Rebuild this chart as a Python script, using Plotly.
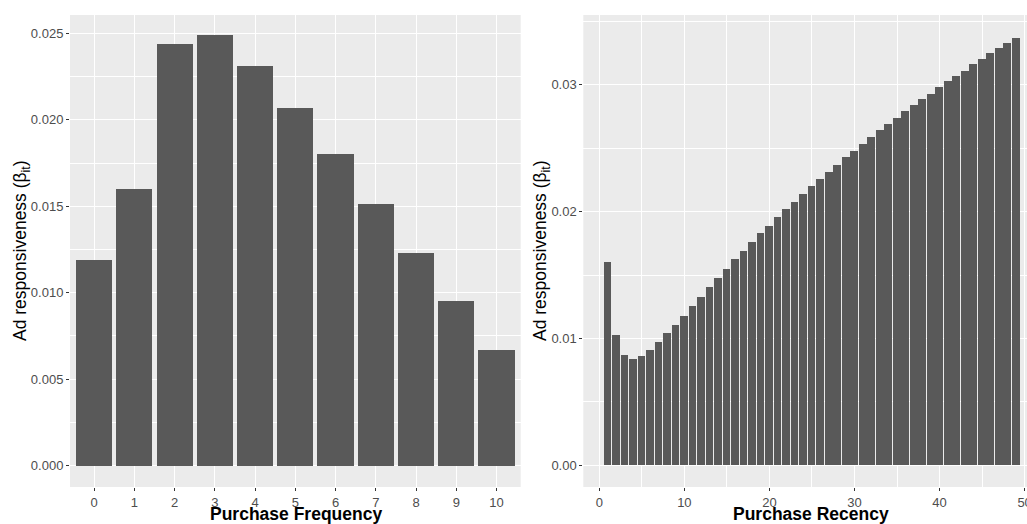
import plotly.graph_objects as go

# ---- data ----
freq_x = [0, 1, 2, 3, 4, 5, 6, 7, 8, 9, 10]
freq_y = [0.0119, 0.0160, 0.0244, 0.0249, 0.0231, 0.0207, 0.0180, 0.0151, 0.0123, 0.0095, 0.0067]

rec_x = list(range(1, 50))
rec_y = [0.0160, 0.0103, 0.0087, 0.0084, 0.0086, 0.0091, 0.0097, 0.0104, 0.0111, 0.0118,
         0.0126, 0.0133, 0.0141, 0.0148, 0.0155, 0.0163, 0.0169, 0.0176, 0.0183, 0.0189,
         0.0196, 0.0202, 0.0208, 0.0214, 0.0220, 0.0226, 0.0231, 0.0237, 0.0243, 0.0248,
         0.0253, 0.0259, 0.0264, 0.0269, 0.0274, 0.0279, 0.0284, 0.0289, 0.0293, 0.0298,
         0.0303, 0.0307, 0.0311, 0.0316, 0.0320, 0.0325, 0.0329, 0.0333, 0.0337]

left_yticks = [0.000, 0.005, 0.010, 0.015, 0.020, 0.025]
left_ylabels = ["0.000", "0.005", "0.010", "0.015", "0.020", "0.025"]
right_yticks = [0.00, 0.01, 0.02, 0.03]
right_ylabels = ["0.00", "0.01", "0.02", "0.03"]
right_xticks = [0, 10, 20, 30, 40, 50]

ytitle = "Ad responsiveness (β<sub>it</sub>)"
xtitle_left = "<b>Purchase Frequency</b>"
xtitle_right = "<b>Purchase Recency</b>"

# ---- figure ----
W, H = 1027, 524
BAR = "#595959"
TICKC = "#4D4D4D"
FONT = "Liberation Sans, Arial, sans-serif"

fig = go.Figure()
fig.add_trace(go.Bar(x=freq_x, y=freq_y, width=0.9, marker=dict(color=BAR, line=dict(width=0)),
                     xaxis="x", yaxis="y", showlegend=False, hoverinfo="skip"))
fig.add_trace(go.Bar(x=rec_x, y=rec_y, width=0.9, marker=dict(color=BAR, line=dict(width=0)),
                     xaxis="x2", yaxis="y2", showlegend=False, hoverinfo="skip"))

mt, mb = 15, 37
plot_h = H - mt - mb

common_axis = dict(
    showline=False, zeroline=False, ticks="outside", ticklen=3, tickwidth=1,
    tickcolor="#333333", gridcolor="white", gridwidth=1.3, automargin=False,
    ticklabeloverflow="allow",
    tickfont=dict(family=FONT, size=13, color=TICKC),
)

fig.update_layout(
    width=W, height=H,
    margin=dict(l=0, r=0, t=mt, b=mb, autoexpand=False),
    paper_bgcolor="white",
    plot_bgcolor="#EBEBEB",
    font=dict(family=FONT),
    bargap=0,
    xaxis=dict(domain=[70 / W, 520.7 / W], range=[-0.6, 10.6], tickvals=freq_x,
               ticktext=[str(v) for v in freq_x], anchor="y", **common_axis),
    yaxis=dict(domain=[0, 1], range=[-0.00124, 0.02606], tickvals=left_yticks,
               ticktext=left_ylabels, anchor="x",
               minor=dict(dtick=0.0025, tick0=0, showgrid=True, gridcolor="white", gridwidth=0.6, ticks=""),
               **common_axis),
    xaxis2=dict(domain=[583.3 / W, 1.0], range=[-1.88, 50.28], tickvals=right_xticks,
                ticktext=[str(v) for v in right_xticks], anchor="y2",
                minor=dict(dtick=5, tick0=0, showgrid=True, gridcolor="white", gridwidth=0.6, ticks=""),
                **common_axis),
    yaxis2=dict(domain=[0, 1], range=[-0.0017, 0.0355], tickvals=right_yticks,
                ticktext=right_ylabels, anchor="x2",
                minor=dict(dtick=0.005, tick0=0, showgrid=True, gridcolor="white", gridwidth=0.6, ticks=""),
                **common_axis),
)

title_font = dict(family=FONT, size=17.5, color="black")
y_title_y = 0.5
xt_y = -(514 - (H - mb)) / plot_h
fig.add_annotation(text=ytitle, xref="paper", yref="paper", x=21 / W, y=y_title_y,
                   textangle=-90, showarrow=False, font=title_font, xanchor="center", yanchor="middle")
fig.add_annotation(text=ytitle, xref="paper", yref="paper", x=541 / W, y=y_title_y,
                   textangle=-90, showarrow=False, font=title_font, xanchor="center", yanchor="middle")
fig.add_annotation(text=xtitle_left, xref="paper", yref="paper", x=295.5 / W, y=xt_y,
                   showarrow=False, font=title_font, xanchor="center", yanchor="middle")
fig.add_annotation(text=xtitle_right, xref="paper", yref="paper", x=811 / W, y=xt_y,
                   showarrow=False, font=title_font, xanchor="center", yanchor="middle")

fig.write_html("out.html", config={"displayModeBar": False},
               post_script="document.body.style.margin='0';document.body.style.overflow='hidden';")
